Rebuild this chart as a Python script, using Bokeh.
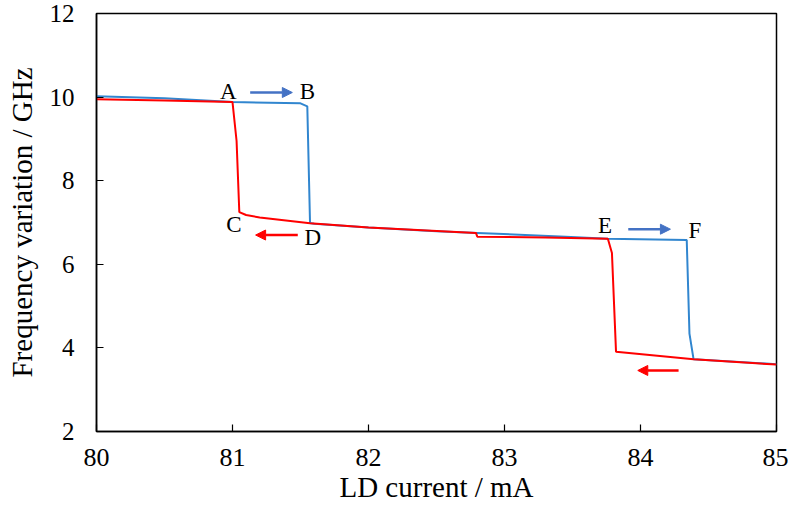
from bokeh.plotting import figure
from bokeh.models import Arrow, NormalHead, Range1d, FixedTicker, Label
from bokeh.embed import file_html
from bokeh.resources import INLINE

# increasing current (blue)
blue_x = [80.0, 80.5, 81.0, 81.5, 81.55, 81.57, 81.6, 82.0, 82.5, 82.8, 83.45, 83.76, 84.34, 84.36, 84.39, 85.0]
blue_y = [10.02, 9.97, 9.88, 9.85, 9.78, 6.99, 6.97, 6.88, 6.79, 6.75, 6.66, 6.61, 6.58, 4.34, 3.73, 3.61]
# decreasing current (red)
red_x = [85.0, 84.39, 83.82, 83.79, 83.76, 83.3, 82.8, 82.79, 82.0, 81.57, 81.2, 81.1, 81.05, 81.03, 81.0, 80.5, 80.0]
red_y = [3.60, 3.73, 3.91, 6.27, 6.61, 6.64, 6.66, 6.75, 6.88, 6.98, 7.12, 7.18, 7.25, 8.95, 9.88, 9.92, 9.95]

point_labels = ["A", "B", "C", "D", "E", "F"]
label_x = [80.97, 81.55, 81.01, 81.59, 83.74, 84.40]
label_y = [10.14, 10.14, 6.96, 6.63, 6.94, 6.82]

x_ticks = [80, 81, 82, 83, 84, 85]
y_ticks = [2, 4, 6, 8, 10, 12]

BLUE = "#3186cf"
ARROW_BLUE = "#4472c4"
RED = "#ff0000"
FONT = "'Liberation Serif', 'Times New Roman', serif"

p = figure(width=788, height=515, output_backend="svg", toolbar_location=None,
           x_range=Range1d(80, 85), y_range=Range1d(2, 12))
p.min_border_left = 96
p.min_border_right = 12
p.min_border_top = 13
p.min_border_bottom = 84
p.background_fill_color = "white"
p.border_fill_color = "white"
p.outline_line_color = "black"
p.outline_line_width = 1.5
p.xgrid.visible = False
p.ygrid.visible = False

p.line(blue_x, blue_y, line_color=BLUE, line_width=2)
p.line(red_x, red_y, line_color=RED, line_width=2)

for ax, ticks in ((p.xaxis[0], x_ticks), (p.yaxis[0], y_ticks)):
    ax.ticker = FixedTicker(ticks=ticks)
    ax.major_tick_in = 7
    ax.major_tick_out = 0
    ax.minor_tick_line_color = None
    ax.axis_line_color = "black"
    ax.axis_line_width = 1.5
    ax.major_tick_line_width = 1.2
    ax.major_label_text_font = FONT
    ax.major_label_text_font_size = "26px"
    ax.major_label_text_color = "black"
    ax.axis_label_text_font = FONT
    ax.axis_label_text_font_size = "29px"
    ax.axis_label_text_font_style = "normal"
    ax.axis_label_text_color = "black"

p.yaxis.major_label_text_font_size = "25px"
p.xaxis.axis_label = "LD current / mA"
p.yaxis.axis_label = "Frequency variation / GHz"
p.xaxis.major_label_standoff = 17
p.yaxis.major_label_standoff = 22
p.xaxis.axis_label_standoff = 2
p.yaxis.axis_label_standoff = 9

for t, lx, ly in zip(point_labels, label_x, label_y):
    p.add_layout(Label(x=lx, y=ly, text=t, text_font=FONT, text_font_size="23px",
                       text_align="center", text_baseline="middle", text_color="black"))

arrows = [
    (81.13, 10.11, 81.44, 10.11, ARROW_BLUE),
    (81.48, 6.70, 81.17, 6.70, RED),
    (83.91, 6.84, 84.22, 6.84, ARROW_BLUE),
    (84.28, 3.46, 83.98, 3.46, RED),
]
for x0, y0, x1, y1, c in arrows:
    p.add_layout(Arrow(end=NormalHead(size=10, fill_color=c, line_color=c),
                       x_start=x0, y_start=y0, x_end=x1, y_end=y1,
                       line_color=c, line_width=2.5))

open("out.html", "w").write(file_html(p, INLINE))
